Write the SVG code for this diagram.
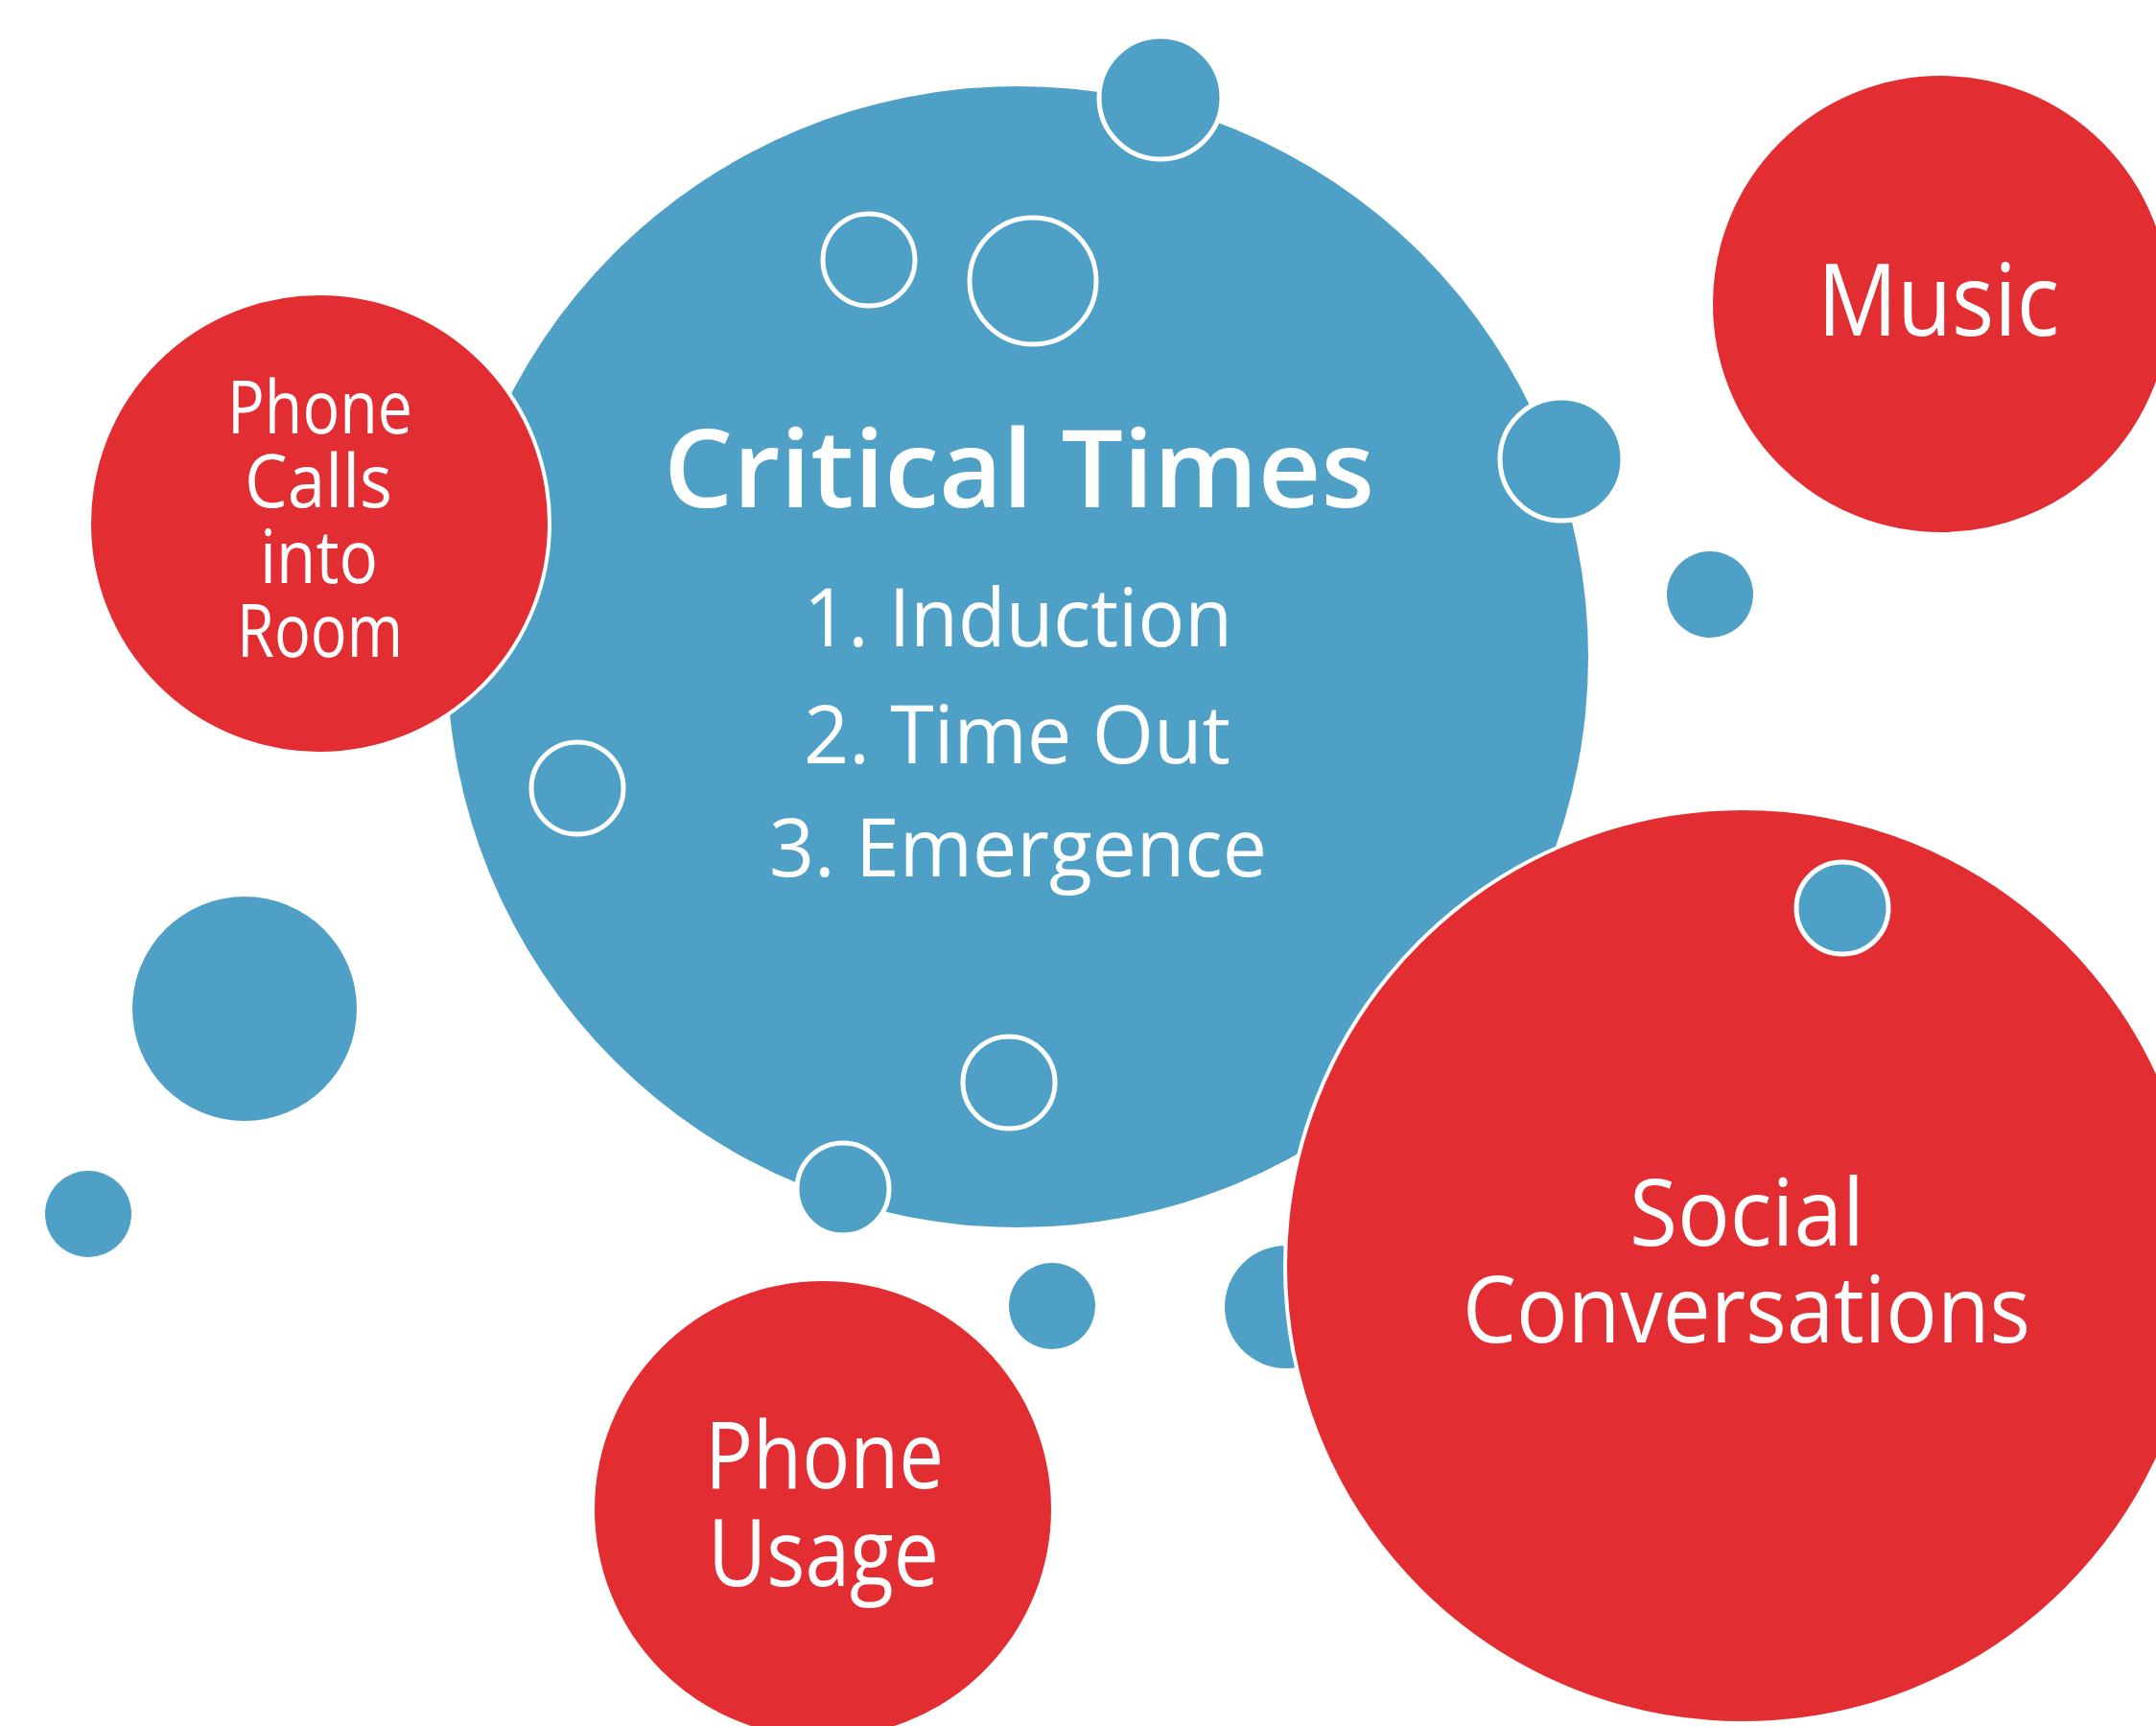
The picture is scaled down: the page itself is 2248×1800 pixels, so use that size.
<svg xmlns="http://www.w3.org/2000/svg" width="2248" height="1800" viewBox="0 0 2248 1800">
<style>
.blue{fill:#4FA0C6}
.red{fill:#E22E32;stroke:#FFFFFF;stroke-width:4}
.ring{fill:#4FA0C6;stroke:#FFFFFF;stroke-width:5}
text{font-family:"Open Sans","Noto Sans","DejaVu Sans",sans-serif;fill:#FFFFFF}
.t{font-size:84px}
.p{font-size:76px}
.big{font-size:97px}
</style>
<rect width="2248" height="1800" fill="#FFFFFF"/>
<g id="connectors"></g>
<g id="critical-times">
<circle class="blue" cx="1061" cy="685" r="595"/>
<text><tspan x="692" y="529" font-size="112" font-weight="600" textLength="741" lengthAdjust="spacingAndGlyphs">Critical Times</tspan><tspan class="t" x="838" y="674" textLength="447" lengthAdjust="spacingAndGlyphs">1. Induction</tspan><tspan class="t" x="838" y="796" textLength="445" lengthAdjust="spacingAndGlyphs">2. Time Out</tspan><tspan class="t" x="802" y="914" textLength="519" lengthAdjust="spacingAndGlyphs">3. Emergence</tspan></text>
</g>
<g id="bubble-inner-1"><circle class="ring" cx="906" cy="271" r="48"/></g>
<g id="bubble-inner-2"><circle class="ring" cx="1077" cy="293" r="66"/></g>
<g id="bubble-inner-3"><circle class="ring" cx="602" cy="822" r="48"/></g>
<g id="bubble-inner-4"><circle class="ring" cx="1052" cy="1129" r="48"/></g>
<g id="bubble-top"><circle class="ring" cx="1210" cy="102" r="64"/></g>
<g id="bubble-right"><circle class="ring" cx="1628" cy="479" r="64"/></g>
<g id="bubble-bottom"><circle class="ring" cx="879" cy="1240" r="48"/></g>
<g id="phone-calls-into-room">
<circle class="red" cx="333" cy="546" r="240"/>
<text class="p"><tspan x="237" y="452" textLength="193" lengthAdjust="spacingAndGlyphs">Phone</tspan><tspan x="255" y="529" textLength="154" lengthAdjust="spacingAndGlyphs">Calls</tspan><tspan x="271" y="608" textLength="123" lengthAdjust="spacingAndGlyphs">into</tspan><tspan x="247" y="685" textLength="173" lengthAdjust="spacingAndGlyphs">Room</tspan></text>
</g>
<g id="bubble-left-large"><circle class="blue" cx="255" cy="1052" r="117"/></g>
<g id="bubble-left-small"><circle class="blue" cx="92" cy="1266" r="45"/></g>
<g id="bubble-mid-right"><circle class="blue" cx="1783" cy="620" r="45"/></g>
<g id="bubble-bottom-mid"><circle class="blue" cx="1097" cy="1362" r="45"/></g>
<g id="bubble-behind-social"><circle class="blue" cx="1341" cy="1363" r="64"/></g>
<g id="music">
<circle class="red" cx="2024" cy="317" r="240"/>
<text x="1895" y="350" font-size="104" textLength="252" lengthAdjust="spacingAndGlyphs">Music</text>
</g>
<g id="social-conversations">
<circle class="red" cx="1817" cy="1320" r="477"/>
<text class="big"><tspan x="1699" y="1299" textLength="245" lengthAdjust="spacingAndGlyphs">Social</tspan><tspan x="1525" y="1400" textLength="592" lengthAdjust="spacingAndGlyphs">Conversations</tspan></text>
</g>
<g id="bubble-on-social"><circle class="ring" cx="1921" cy="947" r="48"/></g>
<g id="phone-usage">
<circle class="red" cx="858" cy="1574" r="240"/>
<text class="big"><tspan x="735" y="1552" textLength="249" lengthAdjust="spacingAndGlyphs">Phone</tspan><tspan x="738" y="1654" textLength="241" lengthAdjust="spacingAndGlyphs">Usage</tspan></text>
</g>
</svg>
